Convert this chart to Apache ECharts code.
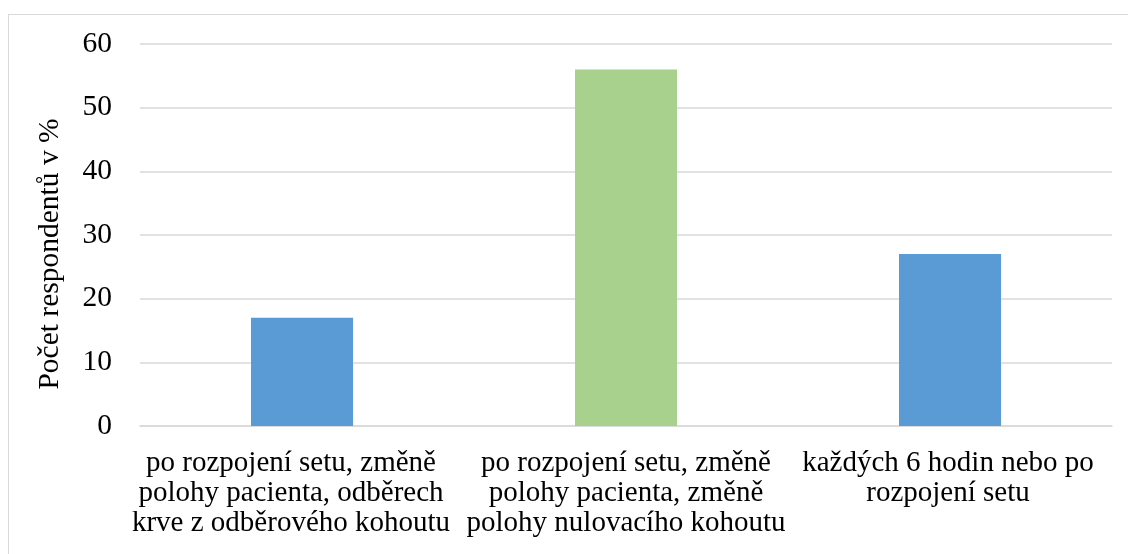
<!DOCTYPE html>
<html><head><meta charset="utf-8">
<script src="https://cdn.jsdelivr.net/npm/echarts@6/dist/echarts.min.js"></script>
<style>html,body{margin:0;padding:0;background:#fff}#c{width:1128px;height:554px}
#frame{position:absolute;left:8px;top:14px;width:1130px;height:560px;border:1.5px solid #d9d9d9;box-sizing:border-box;pointer-events:none}</style>
</head><body><div id="c"></div><div id="frame"></div>
<script>
const categories = [
  'po rozpojení setu, změně\npolohy pacienta, odběrech\nkrve z odběrového kohoutu',
  'po rozpojení setu, změně\npolohy pacienta, změně\npolohy nulovacího kohoutu',
  'každých 6 hodin nebo po\nrozpojení setu'
];
const values = [17, 56, 27];
const barColors = ['#5b9bd5', '#a9d18e', '#5b9bd5'];
const yTicks = [0, 10, 20, 30, 40, 50, 60];
const yTitle = 'Počet respondentů v %';
const FS = 29;
const labelPads = [[0, 22, 0, 0], [0, 0, 0, 0], [0, 4, 0, 0]];

const chart = echarts.init(document.getElementById('c'));
chart.setOption({
  animation: false,
  textStyle: { fontFamily: 'Liberation Serif' },
  grid: { left: 140, right: 16, top: 44, bottom: 128 },
  graphic: [{
    type: 'text',
    x: 50, y: 254,
    rotation: Math.PI / 2,
    style: {
      text: yTitle,
      fill: '#000',
      font: '29.5px "Liberation Serif"',
      align: 'center',
      verticalAlign: 'middle'
    }
  }],
  xAxis: {
    type: 'category',
    data: categories.map((c, i) => ({ value: c, textStyle: { padding: labelPads[i] } })),
    axisLine: { show: true, lineStyle: { color: '#d9d9d9', width: 1.5 } },
    axisTick: { show: false },
    axisLabel: { color: '#000', fontSize: FS, lineHeight: 30, margin: 22, interval: 0, fontFamily: 'Liberation Serif' }
  },
  yAxis: {
    type: 'value',
    min: yTicks[0], max: yTicks[yTicks.length - 1], interval: 10,
    axisLine: { show: false },
    axisTick: { show: false },
    axisLabel: { color: '#000', fontSize: 29.5, margin: 28, fontFamily: 'Liberation Serif' },
    splitLine: { lineStyle: { color: '#d9d9d9', width: 1.5 } }
  },
  series: [{
    type: 'bar',
    barWidth: 102,
    data: values.map((v, i) => ({ value: v, itemStyle: { color: barColors[i] } }))
  }]
});
</script></body></html>
